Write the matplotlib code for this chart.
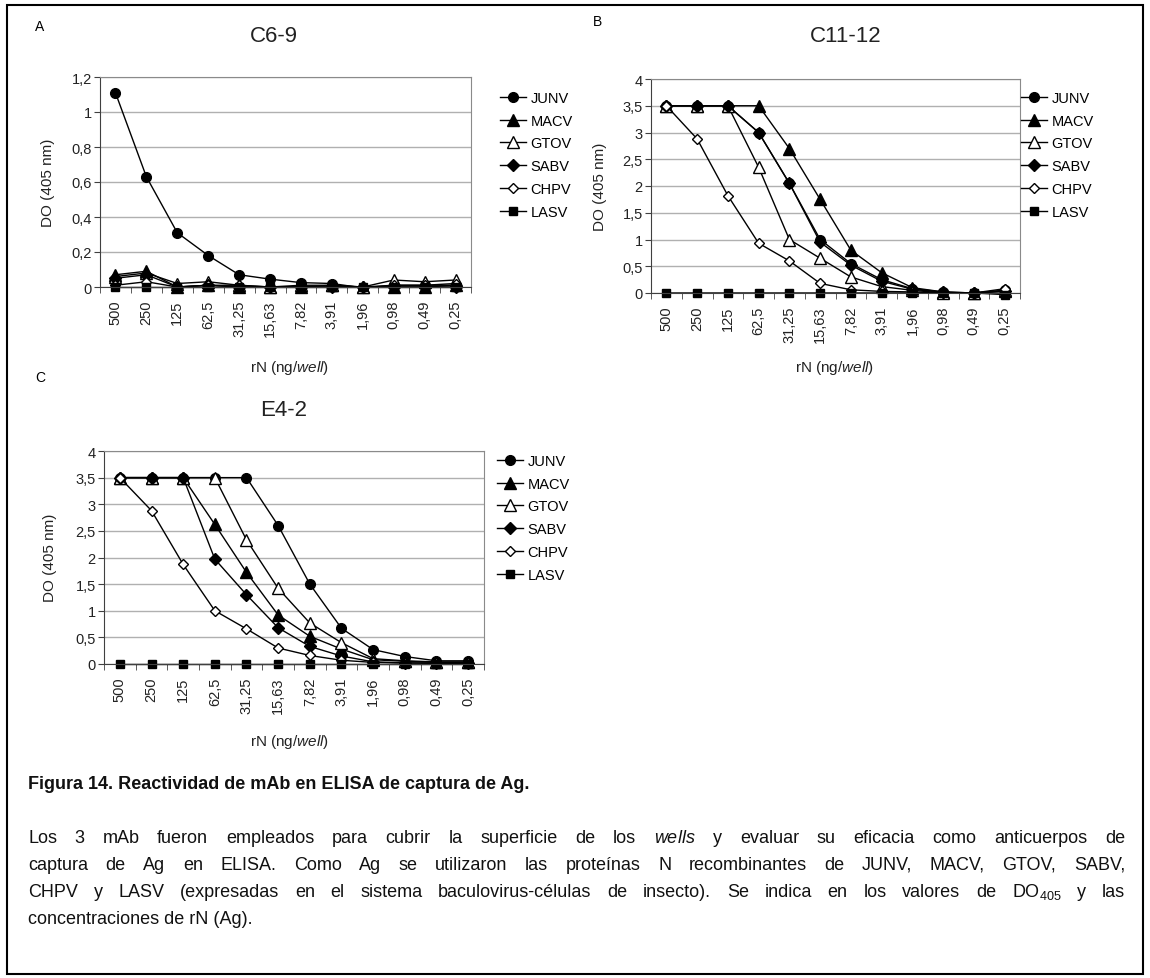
import matplotlib
matplotlib.use("Agg")
import matplotlib.pyplot as plt
from matplotlib.patches import Rectangle
import numpy as np

plt.rcParams['font.family'] = ['Liberation Sans', 'DejaVu Sans']
plt.rcParams['mathtext.fontset'] = 'custom'
plt.rcParams['mathtext.rm'] = 'Liberation Sans'
plt.rcParams['mathtext.it'] = 'Liberation Sans:italic'

W, H = 1150, 979

# rN concentrations (ng/well) on the x axis
conc = ['500', '250', '125', '62,5', '31,25', '15,63', '7,82', '3,91',
        '1,96', '0,98', '0,49', '0,25']
viruses = ['JUNV', 'MACV', 'GTOV', 'SABV', 'CHPV', 'LASV']

# A: mAb C6-9
c69_junv = [1.11, 0.63, 0.31, 0.18, 0.07, 0.045, 0.025, 0.02, -0.005, 0.01, 0.01, 0.01]
c69_macv = [0.07, 0.09, 0.0, 0.01, 0.0, 0.0, 0.0, 0.01, 0.0, 0.0, 0.0, 0.01]
c69_gtov = [0.06, 0.08, 0.02, 0.03, 0.01, 0.0, 0.01, 0.01, 0.0, 0.04, 0.03, 0.04]
c69_sabv = [0.05, 0.07, 0.0, 0.01, 0.0, 0.0, 0.0, 0.0, 0.0, 0.0, 0.0, 0.0]
c69_chpv = [0.01, 0.03, 0.0, 0.01, 0.01, 0.0, 0.0, 0.0, 0.0, 0.01, 0.01, 0.02]
c69_lasv = [0.0, 0.0, 0.0, 0.0, 0.0, 0.0, 0.0, 0.0, 0.0, 0.0, 0.0, 0.0]

# B: mAb C11-12
c1112_junv = [3.5, 3.5, 3.5, 3.0, 2.05, 1.0, 0.55, 0.25, 0.08, 0.02, 0.0, 0.05]
c1112_macv = [3.5, 3.5, 3.5, 3.5, 2.7, 1.75, 0.8, 0.38, 0.1, 0.02, 0.0, 0.03]
c1112_gtov = [3.5, 3.5, 3.5, 2.35, 1.0, 0.65, 0.3, 0.12, 0.05, 0.0, 0.0, 0.05]
c1112_sabv = [3.5, 3.5, 3.5, 3.0, 2.05, 0.95, 0.52, 0.22, 0.07, 0.01, 0.0, 0.03]
c1112_chpv = [3.5, 2.88, 1.82, 0.93, 0.6, 0.18, 0.06, 0.03, 0.02, 0.0, 0.0, 0.08]
c1112_lasv = [0.0, 0.0, 0.0, 0.0, 0.0, 0.0, 0.0, 0.0, 0.0, 0.0, 0.0, -0.03]

# C: mAb E4-2
e42_junv = [3.5, 3.5, 3.5, 3.5, 3.5, 2.6, 1.5, 0.67, 0.27, 0.14, 0.06, 0.06]
e42_macv = [3.5, 3.5, 3.5, 2.62, 1.72, 0.92, 0.52, 0.28, 0.08, 0.05, 0.03, 0.03]
e42_gtov = [3.5, 3.5, 3.5, 3.5, 2.33, 1.42, 0.77, 0.4, 0.1, 0.06, 0.04, 0.04]
e42_sabv = [3.5, 3.5, 3.5, 1.97, 1.3, 0.68, 0.33, 0.15, 0.04, 0.02, 0.02, 0.02]
e42_chpv = [3.5, 2.88, 1.87, 1.0, 0.66, 0.3, 0.16, 0.07, 0.03, 0.02, 0.01, 0.01]
e42_lasv = [0.0, 0.0, 0.0, 0.0, 0.0, 0.0, 0.0, 0.0, 0.0, 0.0, 0.0, 0.0]

styles = {
    'JUNV': dict(marker='o', ms=7, mfc='black'),
    'MACV': dict(marker='^', ms=8, mfc='black'),
    'GTOV': dict(marker='^', ms=8, mfc='white'),
    'SABV': dict(marker='D', ms=6, mfc='black'),
    'CHPV': dict(marker='D', ms=5.5, mfc='white'),
    'LASV': dict(marker='s', ms=6, mfc='black'),
}

fig = plt.figure(figsize=(W / 100, H / 100), dpi=100)


def fx(x):
    return x / W


def fy(y):
    return 1 - y / H


def comma(v):
    return f"{v:g}".replace('.', ',')


def panel(box, series, ymax, ystep, title, title_xy, letter, letter_xy,
          ylab_xy, xlab_xy, leg_xy):
    l, t, r, b = box
    ax = fig.add_axes([fx(l), fy(b), (r - l) / W, (b - t) / H])
    x = np.arange(len(conc))
    for name, vals in zip(viruses, series):
        ax.plot(x, vals, color='black', lw=1, mec='black', label=name,
                clip_on=False, zorder=3, **styles[name])
    ax.set_xlim(-0.5, len(conc) - 0.5)
    ax.set_ylim(0, ymax)
    yt = np.arange(0, ymax + 1e-9, ystep)
    ax.set_yticks(yt)
    ax.set_yticklabels([comma(round(v, 2)) for v in yt], fontsize=10.5,
                       color='#222222')
    ax.set_xticks(x)
    ax.set_xticklabels(conc, rotation=90, fontsize=10.5, color='#222222')
    ax.set_xticks(np.arange(-0.5, len(conc)), minor=True)
    ax.tick_params(axis='x', which='major', length=0, pad=9)
    ax.tick_params(axis='x', which='minor', length=4, color='#404040')
    ax.tick_params(axis='y', length=4, pad=2, color='#404040')
    ax.yaxis.grid(True, color='#b0b0b0', lw=1)
    ax.set_axisbelow(True)
    for s in ('top', 'right'):
        ax.spines[s].set_color('#8a8a8a')
    for s in ('left', 'bottom'):
        ax.spines[s].set_color('#404040')
    ax.spines['bottom'].set_zorder(4)

    fig.text(fx(title_xy[0]), fy(title_xy[1]), title, fontsize=16,
             ha='center', va='center', color='#222222')
    fig.text(fx(letter_xy[0]), fy(letter_xy[1]), letter, fontsize=10,
             ha='center', va='center')
    fig.text(fx(ylab_xy[0]), fy(ylab_xy[1]), 'DO (405 nm)', fontsize=11,
             rotation=90, ha='center', va='center', color='#222222')
    fig.text(fx(xlab_xy[0]), fy(xlab_xy[1]), r'rN (ng/$\mathit{well}$)',
             fontsize=11, ha='center', va='center', color='#222222')
    ax.legend(loc='upper left', bbox_to_anchor=(fx(leg_xy[0]), fy(leg_xy[1])),
              bbox_transform=fig.transFigure, frameon=False, fontsize=10.5,
              handlelength=1.8, handletextpad=0.3, labelspacing=0.6,
              borderaxespad=0, borderpad=0)
    return ax


panel((100, 78, 471, 288),
      [c69_junv, c69_macv, c69_gtov, c69_sabv, c69_chpv, c69_lasv],
      1.2, 0.2, 'C6-9', (274, 36), 'A', (40, 27),
      (48, 183), (290, 368), (500, 92))
panel((651, 80, 1020, 294),
      [c1112_junv, c1112_macv, c1112_gtov, c1112_sabv, c1112_chpv, c1112_lasv],
      4, 0.5, 'C11-12', (846, 36), 'B', (597, 22),
      (600, 187), (835, 368), (1021, 92))
panel((104, 452, 484, 665),
      [e42_junv, e42_macv, e42_gtov, e42_sabv, e42_chpv, e42_lasv],
      4, 0.5, 'E4-2', (284, 410), 'C', (40, 378),
      (50, 558), (290, 742), (497, 455))

# frame round the whole figure
fig.patches.append(Rectangle((fx(7), fy(975)), (1143 - 7) / W, (975 - 6) / H,
                             transform=fig.transFigure, fill=False,
                             ec='black', lw=1.5))

cap_font = ['Liberation Sans Narrow', 'Liberation Sans']
fig.text(fx(28), fy(789), 'Figura 14. Reactividad de mAb en ELISA de captura de Ag.',
         fontsize=13, fontweight='bold', family=cap_font, ha='left',
         va='baseline', color='#111111')

body = [
    r'Los 3 mAb fueron empleados para cubrir la superficie de los $\mathit{wells}$ y evaluar su eficacia como anticuerpos de',
    'captura de Ag en ELISA. Como Ag se utilizaron las proteínas N recombinantes de JUNV, MACV, GTOV, SABV,',
    r'CHPV y LASV (expresadas en el sistema baculovirus-células de insecto). Se indica en los valores de DO$_{405}$ y las',
    'concentraciones de rN (Ag).',
]
baselines = [843, 870, 897, 924]
x0, x1 = 28, 1125
renderer = fig.canvas.get_renderer()
for i, (line, yb) in enumerate(zip(body, baselines)):
    if i == len(body) - 1:
        fig.text(fx(x0), fy(yb), line, fontsize=13, family=cap_font,
                 ha='left', va='baseline', color='#111111')
        continue
    words = line.split(' ')
    texts = [fig.text(0, 0, w, fontsize=13, family=cap_font, ha='left',
                      va='baseline', color='#111111') for w in words]
    widths = [t.get_window_extent(renderer).width for t in texts]
    gap = (x1 - x0 - sum(widths)) / (len(words) - 1)
    xpos = x0
    for t, w in zip(texts, widths):
        t.set_position((fx(xpos), fy(yb)))
        xpos += w + gap

fig.savefig('out.png', dpi=100)
